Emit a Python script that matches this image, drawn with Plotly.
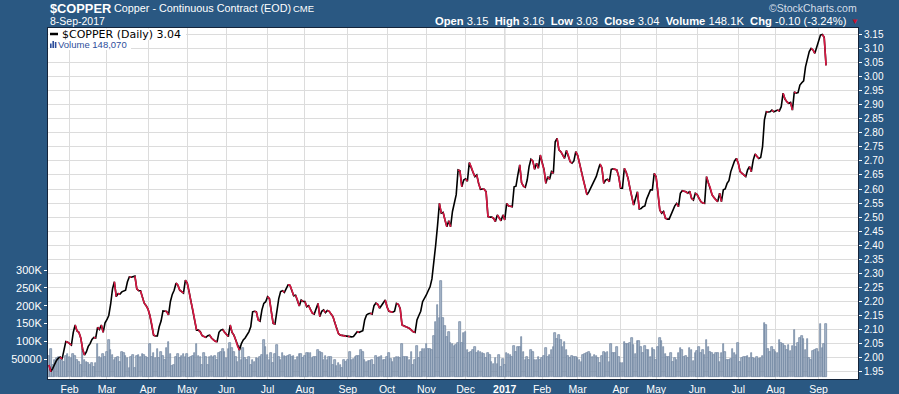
import pandas as pd
import plotly.graph_objects as go

# ---------------- data ----------------
HOLIDAYS = ["2016-01-18", "2016-02-15", "2016-03-25", "2016-05-30", "2016-07-04",
            "2016-09-05", "2016-11-24", "2016-12-26", "2017-01-02", "2017-01-16",
            "2017-02-20", "2017-04-14", "2017-05-29", "2017-07-04", "2017-09-04"]
dates = [d for d in pd.bdate_range("2016-01-14", "2017-09-08")
         if d.strftime("%Y-%m-%d") not in HOLIDAYS]

PRICE = [
    1.974, 1.950, 1.962, 1.978, 1.990, 1.998, 2.002, 1.995, 2.030, 2.057,
    2.055, 2.050, 2.045, 2.090, 2.116, 2.095, 2.090, 2.070, 2.030, 2.009,
    2.020, 2.040, 2.050, 2.065, 2.072, 2.070, 2.108, 2.100, 2.116, 2.090,
    2.124, 2.135, 2.150, 2.190, 2.245, 2.270, 2.217, 2.228, 2.226, 2.234,
    2.236, 2.240, 2.270, 2.287, 2.286, 2.288, 2.290, 2.245, 2.238, 2.238,
    2.215, 2.194, 2.185, 2.173, 2.150, 2.120, 2.080, 2.077, 2.077, 2.110,
    2.130, 2.166, 2.166, 2.164, 2.152, 2.200, 2.225, 2.240, 2.265, 2.258,
    2.240, 2.235, 2.230, 2.276, 2.265, 2.235, 2.199, 2.170, 2.134, 2.098,
    2.098, 2.092, 2.078, 2.075, 2.072, 2.078, 2.080, 2.070, 2.063, 2.058,
    2.057, 2.090, 2.098, 2.100, 2.090, 2.082, 2.075, 2.116, 2.090, 2.080,
    2.062, 2.040, 2.027, 2.050, 2.063, 2.070, 2.080, 2.092, 2.110, 2.163,
    2.165, 2.163, 2.134, 2.130, 2.170, 2.193, 2.199, 2.217, 2.210, 2.163,
    2.122, 2.120, 2.165, 2.210, 2.235, 2.238, 2.232, 2.245, 2.259, 2.258,
    2.240, 2.220, 2.222, 2.205, 2.184, 2.205, 2.200, 2.200, 2.181, 2.185,
    2.170, 2.158, 2.155, 2.175, 2.193, 2.146, 2.165, 2.170, 2.160, 2.168,
    2.165, 2.155, 2.146, 2.125, 2.104, 2.085, 2.080, 2.079, 2.078, 2.075,
    2.076, 2.074, 2.074, 2.075, 2.085, 2.092, 2.090, 2.093, 2.096, 2.134,
    2.152, 2.156, 2.158, 2.155, 2.185, 2.194, 2.190, 2.176, 2.186, 2.193,
    2.205, 2.180, 2.165, 2.163, 2.162, 2.165, 2.193, 2.190, 2.175, 2.116,
    2.112, 2.110, 2.107, 2.104, 2.098, 2.092, 2.090, 2.134, 2.150, 2.165,
    2.199, 2.210, 2.223, 2.238, 2.252, 2.280, 2.330, 2.400, 2.470, 2.549,
    2.514, 2.517, 2.490, 2.466, 2.487, 2.466, 2.520, 2.545, 2.580, 2.668,
    2.665, 2.608, 2.632, 2.636, 2.628, 2.694, 2.680, 2.660, 2.644, 2.650,
    2.620, 2.599, 2.600, 2.599, 2.590, 2.502, 2.500, 2.500, 2.496, 2.484,
    2.508, 2.496, 2.487, 2.508, 2.490, 2.549, 2.540, 2.539, 2.537, 2.608,
    2.610, 2.650, 2.686, 2.622, 2.610, 2.606, 2.632, 2.680, 2.706, 2.700,
    2.670, 2.692, 2.674, 2.721, 2.692, 2.670, 2.620, 2.644, 2.635, 2.662,
    2.656, 2.768, 2.780, 2.739, 2.733, 2.722, 2.709, 2.737, 2.720, 2.697,
    2.692, 2.700, 2.733, 2.720, 2.692, 2.662, 2.632, 2.608, 2.579, 2.590,
    2.603, 2.620, 2.630, 2.645, 2.668, 2.689, 2.675, 2.620, 2.632, 2.635,
    2.626, 2.670, 2.672, 2.670, 2.668, 2.644, 2.603, 2.603, 2.674, 2.660,
    2.638, 2.603, 2.573, 2.543, 2.567, 2.590, 2.529, 2.531, 2.537, 2.540,
    2.565, 2.585, 2.597, 2.597, 2.656, 2.644, 2.590, 2.525, 2.514, 2.520,
    2.496, 2.493, 2.493, 2.510, 2.525, 2.540, 2.549, 2.537, 2.585, 2.594,
    2.592, 2.590, 2.585, 2.592, 2.567, 2.561, 2.585, 2.580, 2.567, 2.555,
    2.550, 2.549, 2.644, 2.620, 2.605, 2.579, 2.570, 2.561, 2.555, 2.585,
    2.555, 2.597, 2.600, 2.620, 2.630, 2.662, 2.680, 2.700, 2.709, 2.692,
    2.662, 2.656, 2.650, 2.644, 2.668, 2.680, 2.662, 2.703, 2.725, 2.715,
    2.709, 2.712, 2.751, 2.846, 2.875, 2.874, 2.875, 2.881, 2.875, 2.878,
    2.881, 2.878, 2.893, 2.941, 2.920, 2.911, 2.905, 2.908, 2.881, 2.946,
    2.941, 2.943, 2.970, 2.978, 2.985, 3.035, 3.065, 3.089, 3.100, 3.095,
    3.083, 3.107, 3.130, 3.148, 3.150, 3.140, 3.040,
]

# volume in thousands of contracts
VOLUME_K = [
    58, 78, 33, 47, 52, 57, 47, 47, 42, 58, 63, 57, 52, 64, 58, 47, 42,
    33, 78, 47, 42, 38, 33, 39, 28, 38, 91, 57, 52, 64, 57, 70, 103, 75,
    61, 47, 52, 57, 42, 70, 66, 58, 52, 24, 57, 61, 24, 58, 61, 57, 64,
    61, 57, 52, 91, 57, 66, 52, 78, 52, 70, 58, 47, 80, 99, 64, 30, 33,
    57, 64, 52, 58, 64, 57, 64, 52, 57, 58, 66, 91, 58, 57, 33, 66, 57,
    33, 55, 58, 55, 58, 47, 66, 70, 77, 70, 52, 77, 96, 80, 70, 57,
    42, 87, 47, 80, 52, 47, 57, 33, 48, 42, 52, 49, 55, 61, 103, 85, 61, 47,
    66, 38, 64, 89, 57, 47, 67, 58, 57, 58, 61, 57, 58, 47, 57, 64,
    64, 52, 58, 66, 66, 66, 52, 55, 55, 75, 70, 66, 47, 58, 47, 57, 57, 33,
    47, 30, 38, 33, 26, 47, 42, 47, 70, 47, 49, 55, 58, 58, 75, 70, 47,
    42, 45, 44, 47, 33, 58, 52, 57, 58, 47, 47, 55, 66, 49, 42, 52, 55,
    57, 52, 93, 57, 57, 57, 47, 70, 33, 47, 87, 52, 70, 77, 77,
    91, 78, 77, 75, 115, 155, 202, 164, 270, 164, 143, 111, 127, 94,
    91, 87, 89, 94, 153, 94, 122, 127, 75, 66, 70, 75, 85, 66, 73, 70,
    66, 64, 52, 66, 61, 42, 36, 52, 36, 61, 28, 49, 33, 66, 64, 61,
    55, 87, 70, 85, 83, 111, 70, 47, 57, 47, 75, 70, 47, 47, 55, 47,
    52, 58, 80, 57, 61, 75, 85, 122, 105, 117, 103, 83, 99, 75, 58,
    52, 58, 57, 55, 52, 47, 42, 61, 64, 68, 70, 64, 55, 61, 58, 52, 38,
    58, 70, 66, 70, 42, 91, 68, 66, 85, 57, 38, 38, 99, 92, 92, 94, 108,
    89, 64, 101, 101, 85, 66, 87, 75, 75, 57, 80, 75, 47, 85, 108, 101,
    85, 64, 57, 55, 66, 42, 52, 47, 66, 80, 75, 55, 58, 52, 80, 75,
    45, 68, 73, 85, 66, 75, 61, 103, 83, 70, 66, 61, 66, 66, 42,
    66, 92, 70, 47, 47, 49, 77, 66, 61, 94, 42, 52, 55, 57, 58, 52,
    68, 52, 49, 55, 49, 52, 58, 150, 146, 77, 70, 85, 75, 70, 66,
    103, 94, 92, 87, 75, 89, 73, 87, 133, 85, 94, 108, 115, 105, 75, 105,
    52, 47, 73, 75, 78, 70, 148, 80, 91, 148.07,
]

MONTH_LABELS = ["Feb", "Mar", "Apr", "May", "Jun", "Jul", "Aug", "Sep", "Oct",
                "Nov", "Dec", "<b>2017</b>", "Feb", "Mar", "Apr", "May", "Jun",
                "Jul", "Aug", "Sep"]
VOL_TICKS = [50, 100, 150, 200, 250, 300]
VOL_TICK_TEXT = ["50000", "100K", "150K", "200K", "250K", "300K"]

assert len(PRICE) == len(dates) == len(VOLUME_K), (len(PRICE), len(dates), len(VOLUME_K))

# ---------------- derived ----------------
idx = list(range(len(dates)))
month_idx = [i for i in range(1, len(dates)) if dates[i].month != dates[i - 1].month]

red_x, red_y = [], []
for i in range(1, len(PRICE)):
    if PRICE[i] < PRICE[i - 1]:
        red_x += [i - 1, i, None]
        red_y += [PRICE[i - 1], PRICE[i], None]

# pixel helpers for the plot frame
L, R, T, B = 48, 858, 28, 379
def px(x):
    return (x - L) / (R - L)
def py(y):
    return (B - y) / (B - T)

BG = "#2a5882"
SANS = "Liberation Sans, Arial, sans-serif"

fig = go.Figure()
fig.add_trace(go.Bar(x=idx, y=VOLUME_K, yaxis="y", width=0.85,
                     marker=dict(color="#a9b6c9", line=dict(color="#6c819e", width=0.7)),
                     hoverinfo="skip"))
fig.add_trace(go.Scatter(x=idx, y=PRICE, yaxis="y2", mode="lines",
                         line=dict(color="#000000", width=1.6), hoverinfo="skip"))
fig.add_trace(go.Scatter(x=red_x, y=red_y, yaxis="y2", mode="lines", connectgaps=False,
                         line=dict(color="#dc1743", width=1.6), hoverinfo="skip"))

fig.update_layout(
    template="none",
    width=899, height=394,
    paper_bgcolor=BG, plot_bgcolor="white",
    margin=dict(l=L, r=899 - R, t=T, b=394 - B, pad=0, autoexpand=False),
    showlegend=False, bargap=0,
    font=dict(family=SANS),
    xaxis=dict(range=[-0.535, 433.1], tickmode="array", tickvals=month_idx,
               ticktext=MONTH_LABELS, showgrid=True, gridcolor="#dcdcdc", gridwidth=1,
               ticks="", tickfont=dict(color="white", size=10.5, family=SANS),
               showline=True, linecolor="#14243a", linewidth=1, mirror=True,
               zeroline=False, automargin=False),
    yaxis=dict(range=[-6, 980], tickmode="array", tickvals=VOL_TICKS, ticktext=VOL_TICK_TEXT,
               showgrid=False, ticks="outside", ticklen=3, tickcolor="white",
               tickfont=dict(color="white", size=11, family=SANS),
               showline=True, linecolor="#14243a", linewidth=1, mirror=True,
               zeroline=False, automargin=False),
    yaxis2=dict(overlaying="y", side="right", range=[1.924, 3.173],
                tick0=1.95, dtick=0.05, tickformat=".2f",
                showgrid=True, gridcolor="#dcdcdc", gridwidth=1,
                ticks="outside", ticklen=3, tickcolor="white",
                tickfont=dict(color="white", size=10, family=SANS),
                zeroline=False, showline=False, automargin=False),
)

shapes = []
# darker year gridline
yr = month_idx[MONTH_LABELS.index("<b>2017</b>")]
shapes.append(dict(type="line", xref="x", yref="paper", x0=yr, x1=yr, y0=0, y1=1,
                   line=dict(color="#b0b0b0", width=1), layer="below"))
# legend background boxes
shapes.append(dict(type="rect", xref="paper", yref="paper", x0=px(48.5), x1=px(186),
                   y0=py(40), y1=py(28.5), fillcolor="white", line=dict(width=0)))
shapes.append(dict(type="rect", xref="paper", yref="paper", x0=px(48.5), x1=px(131),
                   y0=py(50), y1=py(40), fillcolor="white", line=dict(width=0)))
# legend line icon
shapes.append(dict(type="line", xref="paper", yref="paper", x0=px(50), x1=px(58),
                   y0=py(34), y1=py(34), line=dict(color="black", width=2.5)))
# legend volume icon
for x0, x1, y0 in [(50, 51.6, 43.5), (52.4, 54.0, 41), (54.8, 56.4, 42)]:
    shapes.append(dict(type="rect", xref="paper", yref="paper", x0=px(x0), x1=px(x1),
                       y0=py(48), y1=py(y0), fillcolor="#2d4e9b", line=dict(width=0)))
fig.update_layout(shapes=shapes)

ann = []
def text(x, y, s, size, color="white", family=SANS, anchor="left"):
    ann.append(dict(xref="paper", yref="paper", x=px(x), y=py(y), text=s, showarrow=False,
                    xanchor=anchor, yanchor="middle", borderpad=0,
                    font=dict(size=size, color=color, family=family)))

text(48.5, 8, "<b>$COPPER</b>", 12.8)
text(113, 8.5, "Copper - Continuous Contract (EOD)", 10.8)
text(292, 8.5, "CME", 9.5)
text(48.5, 21, "8-Sep-2017", 10.5)
text(858, 8, "©StockCharts.com", 10.5, color="#d5dee8", anchor="right")
text(848, 21, "<b>Open</b> 3.15  <b>High</b> 3.16  <b>Low</b> 3.03  <b>Close</b> 3.04  "
              "<b>Volume</b> 148.1K  <b>Chg</b> -0.10 (-3.24%)", 11.2, anchor="right")
text(849.5, 21.5, "▼", 8, color="#c8102e")
text(61, 34, "$COPPER (Daily) 3.04", 11, color="black", family="DejaVu Sans, Verdana, sans-serif")
text(56.5, 45, "Volume 148,070", 9.5, color="#2d4e9b", family=SANS)
fig.update_layout(annotations=ann)

fig.write_html("out.html", config={"displayModeBar": False},
               post_script="document.body.style.margin='0';document.body.style.background='%s';" % BG)
